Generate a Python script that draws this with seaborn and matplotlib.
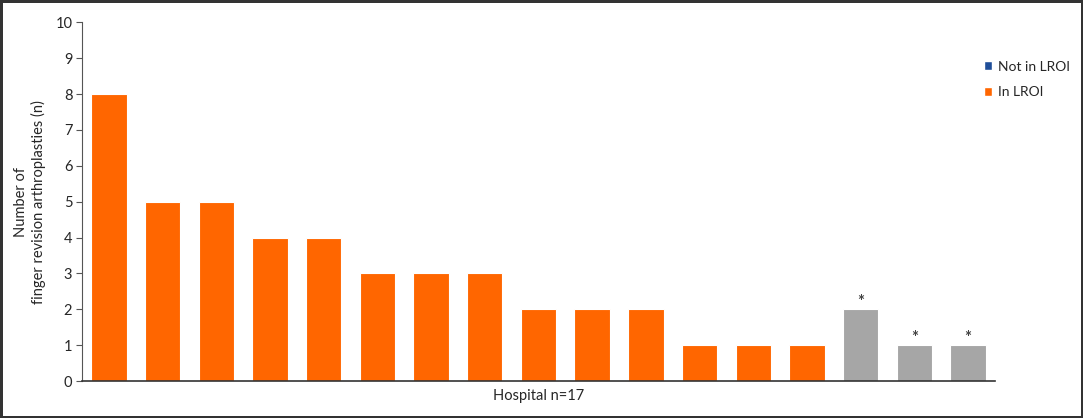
import matplotlib
matplotlib.use("Agg")
import matplotlib.pyplot as plt
from matplotlib.patches import Patch
import seaborn as sns
import pandas as pd

# === Data ===
hospitals = [f"H{i}" for i in range(1, 18)]
counts = [8, 5, 5, 4, 4, 3, 3, 3, 2, 2, 2, 1, 1, 1, 2, 1, 1]
status = ["In LROI"] * 14 + ["Other"] * 3
starred = [False] * 14 + [True] * 3

df = pd.DataFrame({"hospital": hospitals, "n": counts, "status": status})

orange = "#FF6600"
grey = "#A6A6A6"
blue = "#1F4E99"

sns.set_style("white")
plt.rcParams["font.family"] = ["Lato", "DejaVu Sans"]

fig = plt.figure(figsize=(10.83, 4.18), dpi=100)
fig.patch.set_edgecolor("#333333")
fig.patch.set_linewidth(2.5)
ax = fig.add_axes([0.0757, 0.0885, 0.843, 0.858])

sns.barplot(data=df, x="hospital", y="n", hue="status",
            palette={"In LROI": orange, "Other": grey},
            dodge=False, width=0.66, legend=False, ax=ax, saturation=1,
            edgecolor="white", linewidth=0.8)

# asterisks above the grey bars
for i, (c, s) in enumerate(zip(counts, starred)):
    if s:
        ax.text(i, c + 0.2, "*", ha="center", va="center",
                fontsize=12, color="#404040", fontweight="bold")

ax.set_ylim(0, 10)
ax.set_yticks(range(0, 11))
ax.set_xlim(-0.5, len(hospitals) - 0.5)
ax.set_xticks([])
ax.set_xlabel("Hospital n=17", fontsize=10.5, labelpad=6)
ax.set_ylabel("Number of\nfinger revision arthroplasties (n)", fontsize=10.5, labelpad=7)
ax.tick_params(axis="y", which="both", left=True, length=4, color="#555555",
               labelsize=10.5, pad=3)

for side in ["top", "right"]:
    ax.spines[side].set_visible(False)
ax.spines["left"].set_color("#555555")
ax.spines["bottom"].set_color("#333333")
ax.spines["bottom"].set_linewidth(1.2)

handles = [Patch(facecolor=blue, label="Not in LROI"),
           Patch(facecolor=orange, label="In LROI")]
fig.legend(handles=handles, loc="upper left", bbox_to_anchor=(0.897, 0.885),
           frameon=False, fontsize=10, handlelength=0.6, handleheight=0.6,
           handletextpad=0.4, labelspacing=1.0)

fig.savefig("out.png", dpi=100, edgecolor=fig.get_edgecolor())
